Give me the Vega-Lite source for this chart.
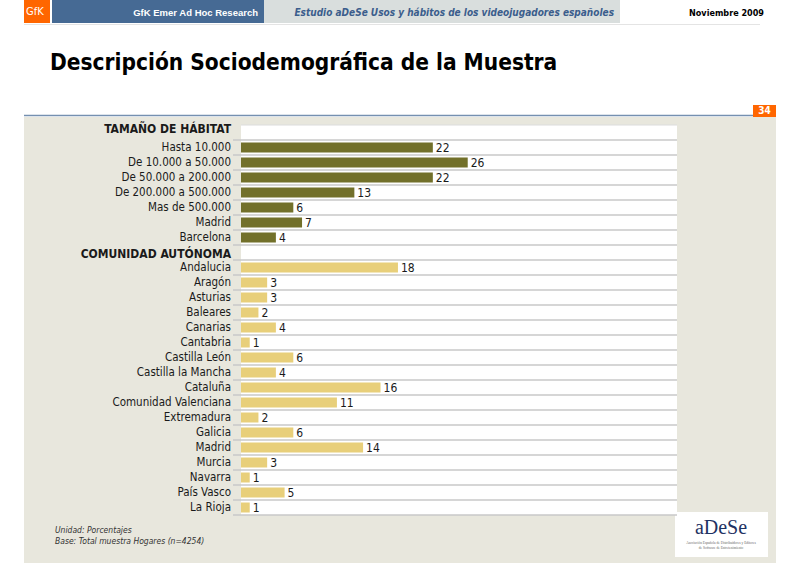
{
  "$schema": "https://vega.github.io/schema/vega-lite/v6.json",
  "width": 436,
  "height": 390,
  "autosize": {"type": "none"},
  "padding": {"left": 241, "top": 125, "right": 123, "bottom": 50},
  "background": "white",
  "config": {
    "view": {"stroke": null},
    "font": "DejaVu Sans Condensed",
    "text": {"font": "DejaVu Sans Condensed"}
  },
  "resolve": {"scale": {"x": "independent", "y": "independent", "color": "independent"}},
  "layer": [
    {
      "data": {"values": [{}]},
      "layer": [
        {
          "mark": {"type": "rect", "fill": "#e8e7dd"},
          "encoding": {
            "x": {"datum": 24, "type": "quantitative", "scale": {"domain": [0, 800], "range": [-241, 559], "nice": false, "zero": false}, "axis": null},
            "x2": {"datum": 776},
            "y": {"datum": 117, "type": "quantitative", "scale": {"domain": [0, 565], "range": [-125, 440], "nice": false, "zero": false}, "axis": null},
            "y2": {"datum": 563}
          }
        },
        {
          "mark": {"type": "rect", "fill": "#ffffff"},
          "encoding": {
            "x": {"datum": 241, "type": "quantitative"}, "x2": {"datum": 677},
            "y": {"datum": 125, "type": "quantitative"}, "y2": {"datum": 515}
          }
        },
        {
          "mark": {"type": "rect", "fill": "#ff6600"},
          "encoding": {
            "x": {"datum": 24, "type": "quantitative"}, "x2": {"datum": 50},
            "y": {"datum": 0, "type": "quantitative"}, "y2": {"datum": 23}
          }
        },
        {
          "mark": {"type": "rect", "fill": "#466a94"},
          "encoding": {
            "x": {"datum": 52, "type": "quantitative"}, "x2": {"datum": 264},
            "y": {"datum": 0, "type": "quantitative"}, "y2": {"datum": 23}
          }
        },
        {
          "mark": {"type": "rect", "fill": "#d9dedd"},
          "encoding": {
            "x": {"datum": 264, "type": "quantitative"}, "x2": {"datum": 620},
            "y": {"datum": 0, "type": "quantitative"}, "y2": {"datum": 23}
          }
        },
        {
          "mark": {"type": "rule", "stroke": "#e4e4e4", "strokeWidth": 1},
          "encoding": {
            "x": {"datum": 24, "type": "quantitative"}, "x2": {"datum": 760},
            "y": {"datum": 24.5, "type": "quantitative"}
          }
        },
        {
          "mark": {"type": "rule", "stroke": "#7590b0", "strokeWidth": 1.5},
          "encoding": {
            "x": {"datum": 24, "type": "quantitative"}, "x2": {"datum": 754},
            "y": {"datum": 115.5, "type": "quantitative"}
          }
        },
        {
          "mark": {"type": "rect", "fill": "#ff6600"},
          "encoding": {
            "x": {"datum": 753, "type": "quantitative"}, "x2": {"datum": 776},
            "y": {"datum": 105, "type": "quantitative"}, "y2": {"datum": 117}
          }
        },
        {
          "mark": {"type": "rect", "fill": "#ffffff"},
          "encoding": {
            "x": {"datum": 675, "type": "quantitative"}, "x2": {"datum": 768},
            "y": {"datum": 512, "type": "quantitative"}, "y2": {"datum": 557}
          }
        },
        {
          "mark": {"type": "text", "text": "GfK", "fill": "#ffffff", "fontSize": 11, "align": "left", "baseline": "middle"},
          "encoding": {"x": {"datum": 26, "type": "quantitative"}, "y": {"datum": 12, "type": "quantitative"}}
        },
        {
          "mark": {"type": "text", "text": "GfK Emer Ad Hoc Research", "fill": "#ffffff", "fontSize": 9.5, "font": "Liberation Sans", "fontWeight": "bold", "align": "right", "baseline": "middle"},
          "encoding": {"x": {"datum": 258, "type": "quantitative"}, "y": {"datum": 12.5, "type": "quantitative"}}
        },
        {
          "mark": {"type": "text", "text": "Estudio aDeSe Usos y hábitos de los videojugadores españoles", "fill": "#3b5d8c", "fontSize": 10, "fontWeight": "bold", "fontStyle": "italic", "align": "right", "baseline": "middle"},
          "encoding": {"x": {"datum": 614, "type": "quantitative"}, "y": {"datum": 12.5, "type": "quantitative"}}
        },
        {
          "mark": {"type": "text", "text": "Noviembre 2009", "fill": "#000000", "fontSize": 9, "fontWeight": "bold", "align": "right", "baseline": "middle"},
          "encoding": {"x": {"datum": 764, "type": "quantitative"}, "y": {"datum": 12.5, "type": "quantitative"}}
        },
        {
          "mark": {"type": "text", "text": "Descripción Sociodemográfica de la Muestra", "fill": "#000000", "fontSize": 22.5, "fontWeight": "bold", "align": "left", "baseline": "middle"},
          "encoding": {"x": {"datum": 50, "type": "quantitative"}, "y": {"datum": 63, "type": "quantitative"}}
        },
        {
          "mark": {"type": "text", "text": "34", "fill": "#ffffff", "fontSize": 10, "fontWeight": "bold", "align": "center", "baseline": "middle"},
          "encoding": {"x": {"datum": 764.5, "type": "quantitative"}, "y": {"datum": 111, "type": "quantitative"}}
        },
        {
          "mark": {"type": "text", "text": "Unidad: Porcentajes", "fill": "#333333", "fontSize": 8.5, "fontStyle": "italic", "align": "left", "baseline": "middle"},
          "encoding": {"x": {"datum": 55, "type": "quantitative"}, "y": {"datum": 530, "type": "quantitative"}}
        },
        {
          "mark": {"type": "text", "text": "Base: Total muestra Hogares (n=4254)", "fill": "#333333", "fontSize": 8.5, "fontStyle": "italic", "align": "left", "baseline": "middle"},
          "encoding": {"x": {"datum": 55, "type": "quantitative"}, "y": {"datum": 541, "type": "quantitative"}}
        },
        {
          "mark": {"type": "text", "text": "aDeSe", "fill": "#1f3263", "fontSize": 20, "font": "Liberation Serif", "align": "center", "baseline": "middle"},
          "encoding": {"x": {"datum": 721, "type": "quantitative"}, "y": {"datum": 528, "type": "quantitative"}}
        },
        {
          "mark": {"type": "text", "text": "Asociación Española de Distribuidores y Editores", "fill": "#666666", "fontSize": 3.5, "font": "Liberation Serif", "align": "center", "baseline": "middle"},
          "encoding": {"x": {"datum": 721, "type": "quantitative"}, "y": {"datum": 543, "type": "quantitative"}}
        },
        {
          "mark": {"type": "text", "text": "de Software de Entretenimiento", "fill": "#666666", "fontSize": 3.5, "font": "Liberation Serif", "align": "center", "baseline": "middle"},
          "encoding": {"x": {"datum": 721, "type": "quantitative"}, "y": {"datum": 548, "type": "quantitative"}}
        }
      ]
    },
    {
      "data": {
        "values": [
          {"orden": 1, "grupo": "habitat", "nivel": "titulo", "etiqueta": "TAMAÑO DE HÁBITAT", "valor": null},
          {"orden": 2, "grupo": "habitat", "nivel": "categoria", "etiqueta": "Hasta 10.000", "valor": 22},
          {"orden": 3, "grupo": "habitat", "nivel": "categoria", "etiqueta": "De 10.000 a 50.000", "valor": 26},
          {"orden": 4, "grupo": "habitat", "nivel": "categoria", "etiqueta": "De 50.000 a 200.000", "valor": 22},
          {"orden": 5, "grupo": "habitat", "nivel": "categoria", "etiqueta": "De 200.000 a 500.000", "valor": 13},
          {"orden": 6, "grupo": "habitat", "nivel": "categoria", "etiqueta": "Mas de 500.000", "valor": 6},
          {"orden": 7, "grupo": "habitat", "nivel": "categoria", "etiqueta": "Madrid", "valor": 7},
          {"orden": 8, "grupo": "habitat", "nivel": "categoria", "etiqueta": "Barcelona", "valor": 4},
          {"orden": 9, "grupo": "ccaa", "nivel": "titulo", "etiqueta": "COMUNIDAD AUTÓNOMA", "valor": null},
          {"orden": 10, "grupo": "ccaa", "nivel": "categoria", "etiqueta": "Andalucia", "valor": 18},
          {"orden": 11, "grupo": "ccaa", "nivel": "categoria", "etiqueta": "Aragón", "valor": 3},
          {"orden": 12, "grupo": "ccaa", "nivel": "categoria", "etiqueta": "Asturias", "valor": 3},
          {"orden": 13, "grupo": "ccaa", "nivel": "categoria", "etiqueta": "Baleares", "valor": 2},
          {"orden": 14, "grupo": "ccaa", "nivel": "categoria", "etiqueta": "Canarias", "valor": 4},
          {"orden": 15, "grupo": "ccaa", "nivel": "categoria", "etiqueta": "Cantabria", "valor": 1},
          {"orden": 16, "grupo": "ccaa", "nivel": "categoria", "etiqueta": "Castilla León", "valor": 6},
          {"orden": 17, "grupo": "ccaa", "nivel": "categoria", "etiqueta": "Castilla la Mancha", "valor": 4},
          {"orden": 18, "grupo": "ccaa", "nivel": "categoria", "etiqueta": "Cataluña", "valor": 16},
          {"orden": 19, "grupo": "ccaa", "nivel": "categoria", "etiqueta": "Comunidad Valenciana", "valor": 11},
          {"orden": 20, "grupo": "ccaa", "nivel": "categoria", "etiqueta": "Extremadura", "valor": 2},
          {"orden": 21, "grupo": "ccaa", "nivel": "categoria", "etiqueta": "Galicia", "valor": 6},
          {"orden": 22, "grupo": "ccaa", "nivel": "categoria", "etiqueta": "Madrid", "valor": 14},
          {"orden": 23, "grupo": "ccaa", "nivel": "categoria", "etiqueta": "Murcia", "valor": 3},
          {"orden": 24, "grupo": "ccaa", "nivel": "categoria", "etiqueta": "Navarra", "valor": 1},
          {"orden": 25, "grupo": "ccaa", "nivel": "categoria", "etiqueta": "País Vasco", "valor": 5},
          {"orden": 26, "grupo": "ccaa", "nivel": "categoria", "etiqueta": "La Rioja", "valor": 1}
        ]
      },
      "layer": [
        {
          "mark": {"type": "rule", "stroke": "#c8c8c8", "strokeWidth": 1.5, "xOffset": -8},
          "encoding": {
            "y": {"field": "orden", "type": "ordinal", "bandPosition": 1, "scale": {"type": "band", "paddingInner": 0, "paddingOuter": 0}, "axis": null},
            "x": {"datum": 0, "type": "quantitative", "scale": {"domain": [0, 50], "nice": false, "zero": true}, "axis": null},
            "x2": {"datum": 50}
          }
        },
        {
          "transform": [{"filter": "datum.orden == 1"}],
          "mark": {"type": "rule", "stroke": "#dcdcdc", "strokeWidth": 1},
          "encoding": {
            "y": {"field": "orden", "type": "ordinal", "bandPosition": 0},
            "x": {"datum": 0, "type": "quantitative"},
            "x2": {"datum": 50}
          }
        },
        {
          "transform": [{"filter": "datum.valor != null"}],
          "mark": {"type": "bar", "size": 10},
          "encoding": {
            "y": {"field": "orden", "type": "ordinal"},
            "x": {"field": "valor", "type": "quantitative"},
            "color": {"field": "grupo", "type": "nominal", "scale": {"domain": ["habitat", "ccaa"], "range": ["#72702a", "#e8cf7a"]}, "legend": null}
          }
        },
        {
          "transform": [{"filter": "datum.valor != null"}],
          "mark": {"type": "text", "align": "left", "baseline": "middle", "dx": 3, "fontSize": 12, "fill": "#1a1a1a"},
          "encoding": {
            "y": {"field": "orden", "type": "ordinal", "bandPosition": 0.5},
            "x": {"field": "valor", "type": "quantitative"},
            "text": {"field": "valor", "type": "quantitative"}
          }
        },
        {
          "transform": [{"filter": "datum.nivel == 'categoria'"}],
          "mark": {"type": "text", "align": "right", "baseline": "middle", "dx": -10, "fontSize": 11.5, "fill": "#1a1a1a"},
          "encoding": {
            "y": {"field": "orden", "type": "ordinal", "bandPosition": 0.5},
            "x": {"datum": 0, "type": "quantitative"},
            "text": {"field": "etiqueta", "type": "nominal"}
          }
        },
        {
          "transform": [{"filter": "datum.nivel == 'titulo' && datum.orden == 1"}],
          "mark": {"type": "text", "align": "right", "baseline": "middle", "dx": -10, "dy": -4, "fontSize": 12, "fontWeight": "bold", "fill": "#1a1a1a"},
          "encoding": {
            "y": {"field": "orden", "type": "ordinal", "bandPosition": 0.5},
            "x": {"datum": 0, "type": "quantitative"},
            "text": {"field": "etiqueta", "type": "nominal"}
          }
        },
        {
          "transform": [{"filter": "datum.nivel == 'titulo' && datum.orden == 9"}],
          "mark": {"type": "text", "align": "right", "baseline": "middle", "dx": -10, "dy": 1, "fontSize": 12, "fontWeight": "bold", "fill": "#1a1a1a"},
          "encoding": {
            "y": {"field": "orden", "type": "ordinal", "bandPosition": 0.5},
            "x": {"datum": 0, "type": "quantitative"},
            "text": {"field": "etiqueta", "type": "nominal"}
          }
        }
      ]
    }
  ]
}
